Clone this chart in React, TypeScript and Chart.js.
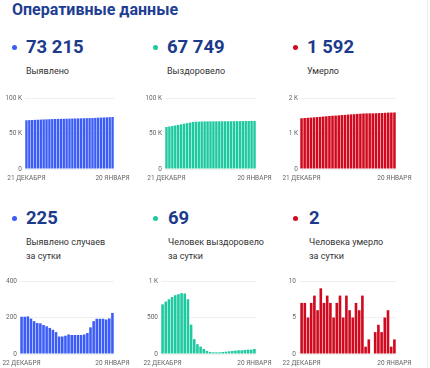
import React, { useEffect, useRef } from 'react';
import { Chart, registerables } from 'chart.js';

Chart.register(...registerables);
Chart.defaults.font.family = 'Roboto';

const topDates = [
  '21 ДЕКАБРЯ', '22 ДЕКАБРЯ', '23 ДЕКАБРЯ', '24 ДЕКАБРЯ', '25 ДЕКАБРЯ', '26 ДЕКАБРЯ',
  '27 ДЕКАБРЯ', '28 ДЕКАБРЯ', '29 ДЕКАБРЯ', '30 ДЕКАБРЯ', '31 ДЕКАБРЯ',
  '1 ЯНВАРЯ', '2 ЯНВАРЯ', '3 ЯНВАРЯ', '4 ЯНВАРЯ', '5 ЯНВАРЯ', '6 ЯНВАРЯ', '7 ЯНВАРЯ',
  '8 ЯНВАРЯ', '9 ЯНВАРЯ', '10 ЯНВАРЯ', '11 ЯНВАРЯ', '12 ЯНВАРЯ', '13 ЯНВАРЯ', '14 ЯНВАРЯ',
  '15 ЯНВАРЯ', '16 ЯНВАРЯ', '17 ЯНВАРЯ', '18 ЯНВАРЯ', '19 ЯНВАРЯ', '20 ЯНВАРЯ',
];
const bottomDates = [
  '22 ДЕКАБРЯ', '23 ДЕКАБРЯ', '24 ДЕКАБРЯ', '25 ДЕКАБРЯ', '26 ДЕКАБРЯ',
  '27 ДЕКАБРЯ', '28 ДЕКАБРЯ', '29 ДЕКАБРЯ', '30 ДЕКАБРЯ', '31 ДЕКАБРЯ',
  '1 ЯНВАРЯ', '2 ЯНВАРЯ', '3 ЯНВАРЯ', '4 ЯНВАРЯ', '5 ЯНВАРЯ', '6 ЯНВАРЯ', '7 ЯНВАРЯ',
  '8 ЯНВАРЯ', '9 ЯНВАРЯ', '10 ЯНВАРЯ', '11 ЯНВАРЯ', '12 ЯНВАРЯ', '13 ЯНВАРЯ', '14 ЯНВАРЯ',
  '15 ЯНВАРЯ', '16 ЯНВАРЯ', '17 ЯНВАРЯ', '18 ЯНВАРЯ', '19 ЯНВАРЯ', '20 ЯНВАРЯ',
];

const casesTotal = [
  68631, 68835, 69039, 69245, 69439, 69619, 69789, 69957, 70116, 70268, 70411,
  70544, 70664, 70760, 70856, 70956, 71063, 71167, 71271, 71375, 71479,
  71586, 71701, 71847, 72027, 72220, 72413, 72606, 72795, 72990, 73215,
];
const recoveredTotal = [
  59197, 59877, 60595, 61345, 62127, 62933, 63753, 64586, 65415, 66165, 66568,
  66772, 66906, 67008, 67078, 67120, 67148, 67171, 67194, 67217, 67245,
  67277, 67314, 67356, 67402, 67453, 67504, 67560, 67620, 67680, 67749,
];
const deathsTotal = [
  1429, 1436, 1443, 1448, 1455, 1463, 1469, 1478, 1485, 1493, 1500,
  1505, 1512, 1520, 1525, 1533, 1539, 1544, 1551, 1557, 1565,
  1566, 1568, 1568, 1571, 1575, 1578, 1583, 1589, 1590, 1592,
];
const casesDaily = [
  204, 204, 206, 194, 180, 170, 168, 159, 152, 143,
  133, 120, 96, 96, 100, 107, 104, 104, 104, 104,
  107, 115, 146, 180, 193, 193, 193, 189, 195, 225,
];
const recoveredDaily = [
  680, 718, 750, 782, 806, 820, 833, 829, 750, 403,
  204, 134, 102, 70, 42, 28, 23, 23, 23, 28,
  32, 37, 42, 46, 51, 51, 56, 60, 60, 69,
];
const deathsDaily = [
  7, 7, 5, 7, 8, 6, 9, 7, 8, 7,
  5, 7, 8, 5, 8, 6, 5, 7, 6, 8,
  1, 2, 0, 3, 4, 3, 5, 6, 1, 2,
];

const BLUE = '#3b5cf6';
const TEAL = '#1ec9a0';
const RED = '#d0091e';
const NAVY = '#1c3a8c';

const fmt = (v: any) => {
  const n = Number(v);
  return n >= 1000 ? `${n / 1000} K` : `${n}`;
};

type PanelProps = {
  areaL: number; areaR: number; areaT: number; areaB: number; yPad: number;
  labels: string[]; data: number[]; color: string; max: number; step: number;
};

function BarPanel(p: PanelProps) {
  const ref = useRef<HTMLCanvasElement>(null);
  const yW = 30, padTop = 8, padRight = 22, xH = 18;
  const left = p.areaL - yW;
  const top = p.areaT - padTop;
  const width = p.areaR + padRight - left;
  const height = p.areaB - p.areaT + padTop + xH;
  useEffect(() => {
    const chart = new Chart(ref.current!, {
      type: 'bar',
      data: {
        labels: p.labels,
        datasets: [{ data: p.data, backgroundColor: p.color, barPercentage: 0.82, categoryPercentage: 1, borderWidth: 0 }],
      },
      options: {
        animation: false,
        responsive: false,
        maintainAspectRatio: false,
        layout: { padding: { top: padTop, right: padRight, left: 0, bottom: 0 } },
        plugins: { legend: { display: false }, tooltip: { enabled: false } },
        scales: {
          x: {
            grid: { display: false, drawTicks: false },
            border: { display: false },
            ticks: {
              autoSkip: false, maxRotation: 0, minRotation: 0, padding: 5,
              color: '#666', font: { size: 6.5 },
              callback: (_v: any, i: number) => (i === 0 || i === p.labels.length - 1 ? p.labels[i] : ''),
            },
            afterFit: (s: any) => { s.height = xH; },
          },
          y: {
            min: 0, max: p.max,
            ticks: { stepSize: p.step, padding: p.yPad, color: '#666', font: { size: 6.5 }, callback: fmt },
            grid: { color: '#efefef', drawTicks: false },
            border: { display: false },
            afterFit: (s: any) => { s.width = yW; },
          },
        },
      } as any,
    });
    return () => chart.destroy();
  }, []);
  return (
    <canvas
      ref={ref}
      width={width}
      height={height}
      style={{ position: 'absolute', left, top, width, height }}
    />
  );
}

function Stat(props: { x: number; dotX: number; y: number; color: string; value: string; lines: string[] }) {
  return (
    <>
      <div style={{ position: 'absolute', left: props.dotX - 2.5, top: props.y + 7, width: 5, height: 5, borderRadius: '50%', background: props.color }} />
      <div style={{ position: 'absolute', left: props.x, top: props.y - 1, fontSize: 18.5, lineHeight: '20px', fontWeight: 700, color: NAVY, whiteSpace: 'nowrap' }}>
        {props.value}
      </div>
      <div style={{ position: 'absolute', left: props.x, top: props.y + 27, fontSize: 9, lineHeight: '13.5px', color: '#333', whiteSpace: 'nowrap' }}>
        {props.lines.map((l, i) => <div key={i}>{l}</div>)}
      </div>
    </>
  );
}

export default function App() {
  return (
    <div style={{ position: 'fixed', left: 0, top: 0, width: 430, height: 368, background: '#fff', fontFamily: 'Roboto', overflow: 'hidden' }}>
      <div style={{ position: 'absolute', left: 12, top: 0, fontSize: 16, lineHeight: '20px', fontWeight: 700, color: '#1d3e92', whiteSpace: 'nowrap' }}>
        Оперативные данные
      </div>
      <div style={{ position: 'absolute', left: 427, top: 0, width: 1, height: 368, background: '#ececec' }} />

      <Stat x={26} dotX={14} y={38} color={BLUE} value="73 215" lines={['Выявлено']} />
      <Stat x={167} dotX={155} y={38} color={TEAL} value="67 749" lines={['Выздоровело']} />
      <Stat x={307} dotX={295} y={38} color={RED} value="1 592" lines={['Умерло']} />

      <Stat x={26} dotX={14} y={209} color={BLUE} value="225" lines={['Выявлено случаев', 'за сутки']} />
      <Stat x={168} dotX={155} y={209} color={TEAL} value="69" lines={['Человек выздоровело', 'за сутки']} />
      <Stat x={309} dotX={295} y={209} color={RED} value="2" lines={['Человека умерло', 'за сутки']} />

      <BarPanel areaL={25} areaR={114} areaT={98} areaB={169} yPad={3} labels={topDates} data={casesTotal} color={BLUE} max={100000} step={50000} />
      <BarPanel areaL={165} areaR={256} areaT={98} areaB={169} yPad={3} labels={topDates} data={recoveredTotal} color={TEAL} max={100000} step={50000} />
      <BarPanel areaL={300} areaR={396} areaT={98} areaB={169} yPad={2} labels={topDates} data={deathsTotal} color={RED} max={2000} step={1000} />

      <BarPanel areaL={20} areaR={114} areaT={281} areaB={354} yPad={3} labels={bottomDates} data={casesDaily} color={BLUE} max={400} step={200} />
      <BarPanel areaL={161} areaR={256} areaT={281} areaB={354} yPad={3} labels={bottomDates} data={recoveredDaily} color={TEAL} max={1000} step={500} />
      <BarPanel areaL={300} areaR={396} areaT={281} areaB={354} yPad={4} labels={bottomDates} data={deathsDaily} color={RED} max={10} step={5} />
    </div>
  );
}
